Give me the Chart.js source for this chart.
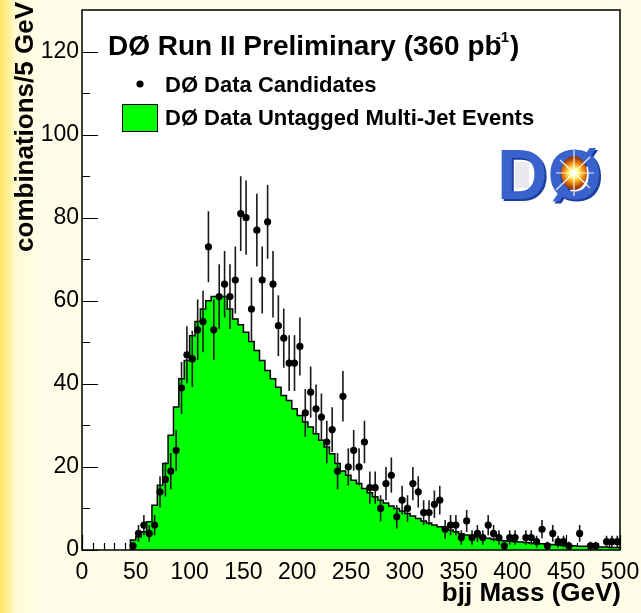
<!DOCTYPE html>
<html>
<head>
<meta charset="utf-8">
<title>bjj Mass</title>
<script src="https://cdn.jsdelivr.net/npm/chart.js@4.4.1/dist/chart.umd.min.js"></script>
<style>
  html, body { margin: 0; padding: 0; }
  body {
    width: 641px; height: 613px; overflow: hidden;
    background: linear-gradient(to right, #fbe766 0px, #fdf09a 9px, #fffbd8 16px, #fffde8 40px, #fffde8 100%);
  }
  canvas { display: block; }
</style>
</head>
<body>
<canvas class="grafico" width="641" height="613"></canvas>
<script>
const canvas = document.querySelector(".grafico");

// lower edge of each 5 GeV bin (GeV)
const massBins = [45, 50, 55, 60, 65, 70, 75, 80, 85, 90, 95,
  100, 105, 110, 115, 120, 125, 130, 135, 140, 145,
  150, 155, 160, 165, 170, 175, 180, 185, 190, 195,
  200, 205, 210, 215, 220, 225, 230, 235, 240, 245,
  250, 255, 260, 265, 270, 275, 280, 285, 290, 295,
  300, 305, 310, 315, 320, 325, 330, 335, 340, 345,
  350, 355, 360, 365, 370, 375, 380, 385, 390, 395,
  400, 405, 410, 415, 420, 425, 430, 435, 440, 445,
  450, 455, 460, 465, 470, 475, 480, 485, 490, 495];

// DØ data candidates (combinations per bin), null = empty bin
const candidates = [1, 4, 6, 4, 6, 14, 17, 19, 24, 39, 47,
  46, 53, 55, 73, 53, 61, 64, 61, 65, 81,
  80, 58, 77, 65, 79, 64, 54, 51, 45, 45,
  49, 33, 38, 34, 32, 26, 29, 19, 37, 20,
  24, 20, 26, 15, 15, 10, 16, 18, 8, 12,
  10, 16, 14, 9, 9, 11, 12, 5, 6, 6,
  3, 7, 3, 4, 3, 6, 4, 3, 1, 3,
  3, null, 3, 3, 2, 5, 1, 4, 2, 2,
  1, null, 4, null, 1, 1, null, 2, 2, 2];

// DØ data untagged multi-jet events (normalised background)
const untagged = [1.2, 2.4, 3.2, 4.4, 6.8, 10.8, 15.6, 20.8, 27.6, 34.4, 41.2,
  45.6, 51.6, 55, 58, 60, 61, 61, 61, 58, 55.6,
  54.2, 52.4, 50.2, 48, 45.6, 43.2, 41.2, 39.2, 37.2, 36,
  34, 32.4, 30.8, 29.6, 28, 26.4, 24.8, 23.2, 20.8, 19,
  18, 16.8, 16, 14.8, 13.8, 12.8, 12, 11.3, 10.6, 10,
  9.4, 8.8, 8.2, 7.6, 7, 6.5, 6, 5.6, 5.2, 4.8,
  4.4, 3.9, 3.6, 3.4, 3.2, 3, 2.8, 2.6, 2.4, 2.2,
  2.1, 2, 1.9, 1.8, 1.7, 1.6, 1.5, 1.4, 1.3, 1.2,
  1.1, 1, 1, 0.9, 0.9, 0.8, 0.8, 0.7, 0.7, 0.6];

const xTicks = [0, 50, 100, 150, 200, 250, 300, 350, 400, 450, 500];
const yTicks = [0, 20, 40, 60, 80, 100, 120];

const FONT = '"Liberation Sans", Arial, Helvetica, sans-serif';
Chart.defaults.font.family = FONT;
Chart.defaults.color = "#000";

const histoData = [{ x: massBins[0], y: 0 }]
  .concat(massBins.map((lo, i) => ({ x: lo, y: untagged[i] })))
  .concat([{ x: 500, y: untagged[untagged.length - 1] }]);

const pointData = [];
massBins.forEach((lo, i) => {
  if (candidates[i] !== null) pointData.push({ x: lo + 2.5, y: candidates[i] });
});

// no extra room for overhanging tick labels: keep the frame where ROOT put it
const sinPadding = (s) => {
  s.paddingTop = 0;
  s.paddingBottom = 0;
  s.paddingLeft = 0;
  s.paddingRight = 0;
};

const fondoBlanco = {
  id: "fondoBlanco",
  beforeDraw(chart) {
    const { ctx, chartArea: a } = chart;
    ctx.save();
    ctx.fillStyle = "#fff";
    ctx.fillRect(a.left, a.top, a.right - a.left, a.bottom - a.top);
    ctx.restore();
  }
};

// inward ROOT-style ticks, drawn under the histogram
const marcas = {
  id: "marcas",
  beforeDatasetsDraw(chart) {
    const { ctx, chartArea: a, scales: { x, y } } = chart;
    ctx.save();
    ctx.strokeStyle = "#000";
    ctx.lineWidth = 1.2;
    ctx.beginPath();
    for (let v = 0; v <= 125; v += 10) {
      const py = Math.round(y.getPixelForValue(v)) + 0.5;
      const len = v % 20 === 0 ? 16 : 8;
      ctx.moveTo(a.left, py);
      ctx.lineTo(a.left + len, py);
    }
    for (let v = 0; v <= 500; v += 10) {
      const px = Math.round(x.getPixelForValue(v)) + 0.5;
      const len = v % 50 === 0 ? 15 : 7;
      ctx.moveTo(px, a.bottom);
      ctx.lineTo(px, a.bottom - len);
    }
    ctx.stroke();
    ctx.restore();
  }
};

const barrasError = {
  id: "barrasError",
  afterDatasetDraw(chart, args) {
    if (args.index !== 1) return;
    const { ctx, scales: { x, y } } = chart;
    ctx.save();
    ctx.strokeStyle = "#1a1a1a";
    ctx.lineWidth = 1.6;
    ctx.beginPath();
    massBins.forEach((lo, i) => {
      const n = candidates[i];
      if (n === null) return;
      const err = Math.sqrt(n);
      const px = x.getPixelForValue(lo + 2.5);
      ctx.moveTo(px, y.getPixelForValue(Math.max(0, n - err)));
      ctx.lineTo(px, y.getPixelForValue(n + err));
    });
    ctx.stroke();
    ctx.restore();
  }
};

const textos = {
  id: "textos",
  afterDraw(chart) {
    const { ctx, chartArea: a } = chart;
    ctx.save();
    // frame
    ctx.strokeStyle = "#000";
    ctx.lineWidth = 1.5;
    ctx.strokeRect(a.left, a.top, a.right - a.left, a.bottom - a.top);

    ctx.fillStyle = "#000";
    ctx.textBaseline = "alphabetic";
    // title
    ctx.font = "bold 28px " + FONT;
    ctx.textAlign = "left";
    const t = "DØ Run II Preliminary (360 pb";
    ctx.fillText(t, 108, 55);
    let w = ctx.measureText(t).width;
    ctx.font = "bold 15px " + FONT;
    ctx.fillText("-1", 108 + w - 6, 42);
    const w2 = ctx.measureText("-1").width;
    ctx.font = "bold 28px " + FONT;
    ctx.fillText(")", 108 + w - 6 + w2 + 1, 55);

    // legend
    ctx.font = "bold 22px " + FONT;
    ctx.beginPath();
    ctx.arc(140, 84, 3.6, 0, Math.PI * 2);
    ctx.fill();
    ctx.fillText("DØ Data Candidates", 165, 92);
    ctx.fillStyle = "#00ff00";
    ctx.fillRect(122, 104, 35, 27);
    ctx.lineWidth = 1;
    ctx.strokeRect(122.5, 104.5, 35, 27);
    ctx.fillStyle = "#000";
    ctx.fillText("DØ Data Untagged Multi-Jet Events", 165, 125);

    // axis titles
    ctx.font = "bold 26px " + FONT;
    ctx.textAlign = "right";
    ctx.fillText("bjj Mass (GeV)", 621, 601);
    ctx.save();
    ctx.translate(33, 2);
    ctx.rotate(-Math.PI / 2);
    ctx.fillText("combinations/5 GeV", 0, 0);
    ctx.restore();

    // DØ logo
    ctx.textAlign = "left";
    ctx.font = "bold 70px " + FONT;
    ctx.fillStyle = "#1c3f9e";
    ctx.fillText("DØ", 499, 201);
    ctx.fillStyle = "#3a62cc";
    ctx.fillText("DØ", 497, 199);
    ctx.fillStyle = "#e9e9ef";
    ctx.fillRect(515, 162, 14, 26);
    const g = ctx.createRadialGradient(574, 173, 1, 574, 173, 15);
    g.addColorStop(0, "#ffffff");
    g.addColorStop(0.3, "#fff36a");
    g.addColorStop(0.65, "#f08a10");
    g.addColorStop(1, "#9a3a08");
    ctx.fillStyle = g;
    ctx.beginPath();
    ctx.ellipse(574, 173, 13, 17, 0, 0, Math.PI * 2);
    ctx.fill();
    ctx.strokeStyle = "rgba(255,255,255,0.9)";
    ctx.lineWidth = 1.2;
    ctx.beginPath();
    ctx.moveTo(556, 173); ctx.lineTo(594, 173);
    ctx.moveTo(574, 150); ctx.lineTo(574, 196);
    ctx.moveTo(560, 160); ctx.lineTo(590, 188);
    ctx.moveTo(590, 157); ctx.lineTo(556, 190);
    ctx.stroke();
    ctx.restore();
  }
};

const config = {
  type: "scatter",
  data: {
    datasets: [
      {
        label: "DØ Data Candidates",
        data: pointData,
        backgroundColor: "#000",
        borderColor: "#000",
        pointRadius: 3.6,
        pointBorderWidth: 0,
        order: 0
      },
      {
        label: "DØ Data Untagged Multi-Jet Events",
        data: histoData,
        showLine: true,
        stepped: "after",
        fill: "origin",
        backgroundColor: "#00ff00",
        borderColor: "#000",
        borderWidth: 1.5,
        pointRadius: 0,
        order: 1
      }
    ]
  },
  options: {
    responsive: false,
    animation: false,
    devicePixelRatio: 1,
    layout: { padding: { top: 10, right: 21, left: 0, bottom: 0 } },
    plugins: { legend: { display: false }, tooltip: { enabled: false } },
    scales: {
      x: {
        type: "linear",
        min: 0,
        max: 500,
        grid: { display: false, drawTicks: false },
        border: { display: false },
        afterBuildTicks: (s) => { s.ticks = xTicks.map((v) => ({ value: v })); },
        afterFit: (s) => { s.height = 63; sinPadding(s); },
        ticks: { autoSkip: false, maxRotation: 0, padding: 9, font: { size: 23 } }
      },
      y: {
        type: "linear",
        min: 0,
        max: 130,
        grid: { display: false, drawTicks: false },
        border: { display: false },
        afterBuildTicks: (s) => { s.ticks = yTicks.map((v) => ({ value: v })); },
        afterFit: (s) => { s.width = 82; sinPadding(s); },
        ticks: { padding: 3, font: { size: 23 } }
      }
    }
  },
  plugins: [fondoBlanco, marcas, barrasError, textos]
};

new Chart(canvas, config);
</script>
</body>
</html>
